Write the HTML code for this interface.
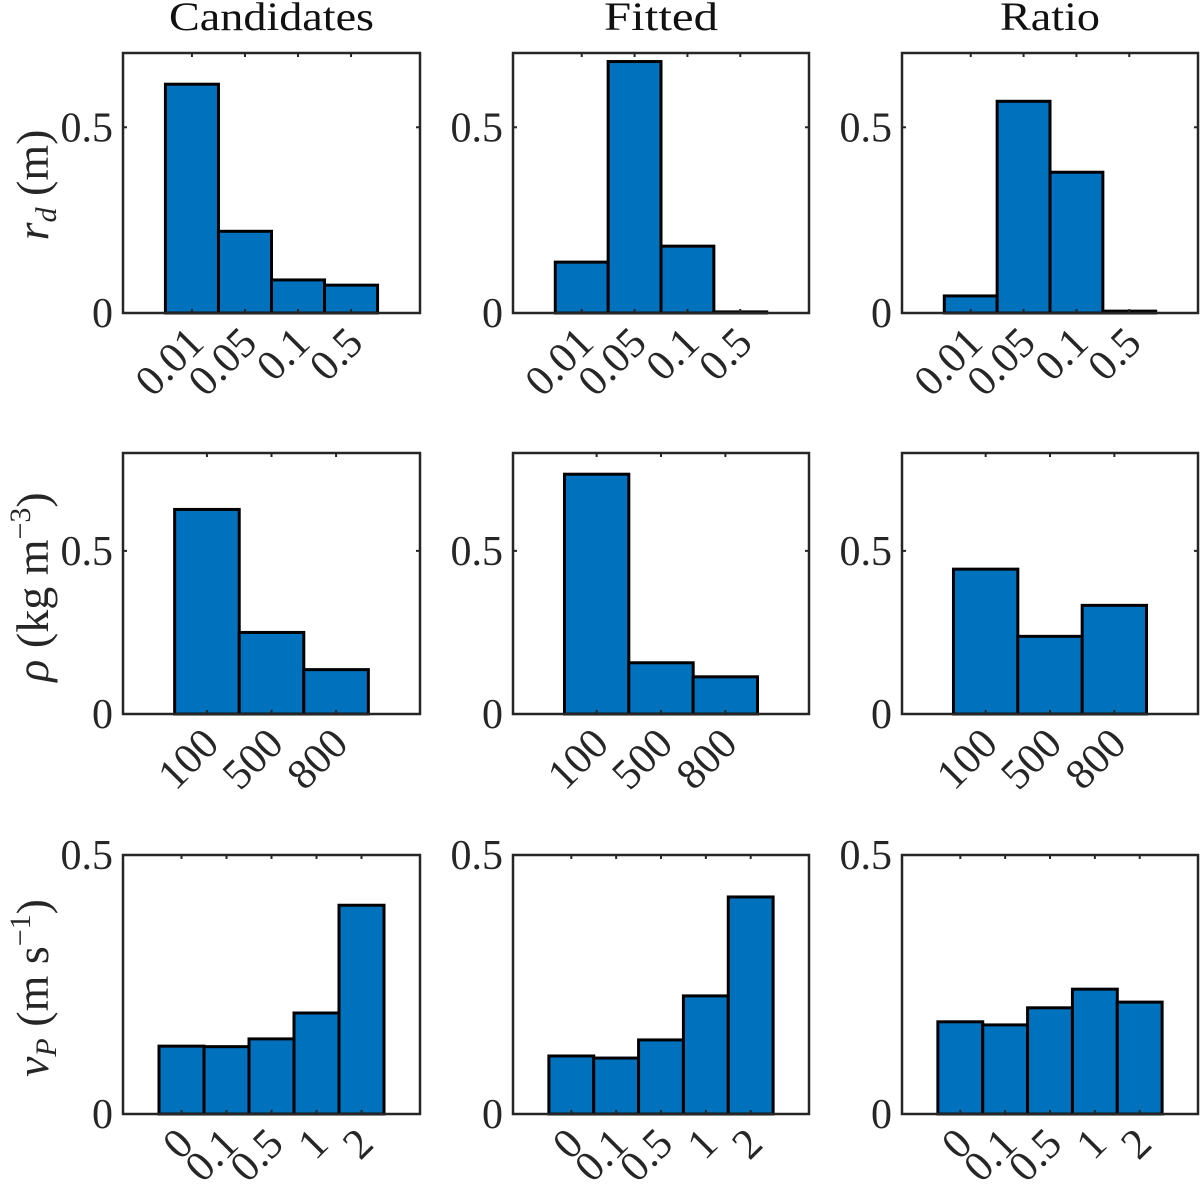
<!DOCTYPE html>
<html><head><meta charset="utf-8">
<style>
html,body{margin:0;padding:0;background:#fff;}
svg{display:block;font-family:"Liberation Serif",serif;}
</style></head>
<body>
<svg id="fig" width="1200" height="1186" viewBox="0 0 1200 1186" xmlns="http://www.w3.org/2000/svg"></svg>
<script>
// ---- data ----
const colTitles = ["Candidates", "Fitted", "Ratio"];
const rdCategories = ["0.01", "0.05", "0.1", "0.5"];
const rhoCategories = ["100", "500", "800"];
const vpCategories = ["0", "0.1", "0.5", "1", "2"];
const rdCandidates = [0.616, 0.22, 0.089, 0.075];
const rdFitted = [0.137, 0.677, 0.18, 0.003];
const rdRatio = [0.046, 0.57, 0.379, 0.005];
const rhoCandidates = [0.627, 0.25, 0.136];
const rhoFitted = [0.735, 0.157, 0.114];
const rhoRatio = [0.444, 0.238, 0.333];
const vpCandidates = [0.131, 0.13, 0.145, 0.195, 0.403];
const vpFitted = [0.112, 0.108, 0.143, 0.228, 0.419];
const vpRatio = [0.178, 0.172, 0.205, 0.241, 0.216];
const rdYMax = 0.7, rhoYMax = 0.8, vpYMax = 0.5;
const rdYTicks = [0, 0.5], rhoYTicks = [0, 0.5], vpYTicks = [0, 0.5];
const rdYTickLabels = ["0", "0.5"], rhoYTickLabels = ["0", "0.5"], vpYTickLabels = ["0", "0.5"];

// ---- layout ----
const NS = "http://www.w3.org/2000/svg";
const svg = document.getElementById("fig");
const colX = [[123, 420], [513, 809], [902, 1198]];
const rowY = [[53, 313], [453, 714], [855, 1114]];
function mk(tag, attrs, parent) {
  const e = document.createElementNS(NS, tag);
  for (const k in attrs) e.setAttribute(k, attrs[k]);
  (parent || svg).appendChild(e);
  return e;
}
const rows = [
  {cats: rdCategories, series: [rdCandidates, rdFitted, rdRatio], ymax: rdYMax, yt: rdYTicks, ytl: rdYTickLabels, key: "rd"},
  {cats: rhoCategories, series: [rhoCandidates, rhoFitted, rhoRatio], ymax: rhoYMax, yt: rhoYTicks, ytl: rhoYTickLabels, key: "rho"},
  {cats: vpCategories, series: [vpCandidates, vpFitted, vpRatio], ymax: vpYMax, yt: vpYTicks, ytl: vpYTickLabels, key: "vp"}
];
const colKeys = ["candidates", "fitted", "ratio"];
const titleLens = [205, 114, 100];

// column titles
colTitles.forEach((t, c) => {
  const el = mk("text", {x: (colX[c][0] + colX[c][1]) / 2, y: 30, "text-anchor": "middle", "font-size": 40, fill: "#111", textLength: titleLens[c], lengthAdjust: "spacingAndGlyphs"});
  
  
  el.textContent = t;
});

rows.forEach((row, r) => {
  const [y0, y1] = rowY[r];
  const n = row.cats.length;
  row.series.forEach((vals, c) => {
    const [x0, x1] = colX[c];
    const g = mk("g", {});
    
    
    const xmin = -0.3, xmax = n + 1.3;
    const xs = v => x0 + (v - xmin) / (xmax - xmin) * (x1 - x0);
    const ys = v => y1 - v / row.ymax * (y1 - y0);
    // bars
    vals.forEach((v, i) => {
      const b = mk("rect", {x: xs(i + 0.5), y: ys(v), width: xs(i + 1.5) - xs(i + 0.5), height: y1 - ys(v), fill: "#0072BD", stroke: "#000", "stroke-width": 3}, g);
      
      
    });
    // axes box
    const box = mk("rect", {x: x0, y: y0, width: x1 - x0, height: y1 - y0, fill: "none", stroke: "#262626", "stroke-width": 2.5}, g);
    
    
    // x ticks + labels
    row.cats.forEach((lab, i) => {
      const x = xs(i + 1);
      mk("line", {x1: x, y1: y1, x2: x, y2: y1 - 4, stroke: "#262626", "stroke-width": 2}, g);
      mk("line", {x1: x, y1: y0, x2: x, y2: y0 + 4, stroke: "#262626", "stroke-width": 2}, g);
      const t = mk("text", {x: x + 14, y: y1 + 32, "text-anchor": "end", "font-size": 43, fill: "#262626", transform: `rotate(-45 ${x + 14} ${y1 + 32})`}, g);
      
      
      t.textContent = lab;
    });
    // y ticks + labels
    row.yt.forEach((v, i) => {
      const y = ys(v);
      mk("line", {x1: x0, y1: y, x2: x0 + 4, y2: y, stroke: "#262626", "stroke-width": 2}, g);
      mk("line", {x1: x1, y1: y, x2: x1 - 4, y2: y, stroke: "#262626", "stroke-width": 2}, g);
      const t = mk("text", {x: x0 - 10, y: y + 14, "text-anchor": "end", "font-size": 42, fill: "#262626"}, g);
      
      
      t.textContent = row.ytl[i];
    });
  });
});

// y-axis titles
const ylabels = [
  {y: 185, html: '<tspan font-style="italic">r</tspan><tspan font-style="italic" font-size="30" dy="8">d</tspan><tspan dy="-8"> (m)</tspan>', name: "y-axis-title-rd"},
  {y: 587, html: '<tspan font-style="italic">ρ</tspan> (kg m<tspan font-size="30" dy="-18">−3</tspan><tspan dy="18">)</tspan>', name: "y-axis-title-rho"},
  {y: 988, html: '<tspan font-style="italic">v</tspan><tspan font-style="italic" font-size="30" dy="8">P</tspan><tspan dy="-8"> (m s</tspan><tspan font-size="30" dy="-18">−1</tspan><tspan dy="18">)</tspan>', name: "y-axis-title-vp"}
];
ylabels.forEach(l => {
  const t = mk("text", {x: 0, y: 0, "text-anchor": "middle", "font-size": 46, fill: "#262626", transform: `translate(48 ${l.y}) rotate(-90)`});
  
  
  t.innerHTML = l.html;
});
</script>
</body></html>
